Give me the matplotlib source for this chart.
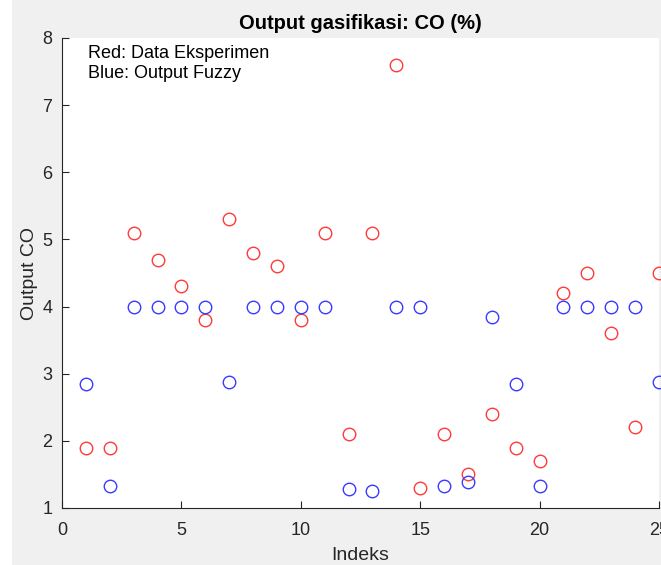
import numpy as np
import matplotlib
matplotlib.use('Agg')
import matplotlib.pyplot as plt
from matplotlib.patches import Rectangle

plt.rcParams['font.family'] = ['Liberation Sans', 'DejaVu Sans']

indeks = np.arange(1, 26)
co_eksperimen = [1.9, 1.9, 5.1, 4.7, 4.3, 3.8, 5.3, 4.8, 4.6, 3.8, 5.1, 2.1, 5.1,
                 7.6, 1.3, 2.1, 1.5, 2.4, 1.9, 1.7, 4.2, 4.5, 3.6, 2.2, 4.5]
co_fuzzy = [2.85, 1.33, 4.0, 4.0, 4.0, 4.0, 2.88, 4.0, 4.0, 4.0, 4.0, 1.29, 1.25,
            4.0, 4.0, 1.33, 1.38, 3.84, 2.85, 1.33, 4.0, 4.0, 4.0, 4.0, 2.88]

fig = plt.figure(figsize=(6.61, 5.65), dpi=100, facecolor='#f0f0f0')
# white strip at the left edge of the screenshot
fig.patches.append(Rectangle((0, 0), 12 / 661, 1, transform=fig.transFigure,
                             facecolor='white', edgecolor='none', zorder=-1))
ax = fig.add_axes([62 / 661, 57 / 565, 597 / 661, 470 / 565])
ax.set_facecolor('white')

ax.plot(indeks, co_eksperimen, 'o', markersize=9, markerfacecolor='none',
        markeredgecolor='#ff3a3a', markeredgewidth=1.0, clip_on=False)
ax.plot(indeks, co_fuzzy, 'o', markersize=9, markerfacecolor='none',
        markeredgecolor='#3a3aff', markeredgewidth=1.0, clip_on=False)

ax.set_xlim(0, 25)
ax.set_ylim(1, 8)
ax.set_xticks([0, 5, 10, 15, 20, 25])
ax.set_yticks(range(1, 9))
ax.tick_params(direction='in', length=5, width=0.8, labelsize=13, colors='#262626')
ax.tick_params(axis='x', pad=10)
ax.tick_params(axis='y', pad=7)
for side in ['top', 'right']:
    ax.spines[side].set_visible(False)
for side in ['left', 'bottom']:
    ax.spines[side].set_color('#262626')
    ax.spines[side].set_linewidth(0.8)

ax.set_title('Output gasifikasi: CO (%)', fontsize=14.5, fontweight='bold', pad=6.5)
ax.set_xlabel('Indeks', fontsize=14, color='#262626')
ax.set_ylabel('Output CO', fontsize=14, color='#262626')
ax.xaxis.set_label_coords(0.5, -47 / 470)
ax.yaxis.set_label_coords(-32 / 597, 0.5)
ax.xaxis.label.set_va('center')
ax.yaxis.label.set_va('center')
ax.text(0.043, 0.985, 'Red: Data Eksperimen\nBlue: Output Fuzzy', transform=ax.transAxes,
        fontsize=13, va='top', ha='left', linespacing=1.2)

fig.savefig('out.png', dpi=100, facecolor=fig.get_facecolor())
